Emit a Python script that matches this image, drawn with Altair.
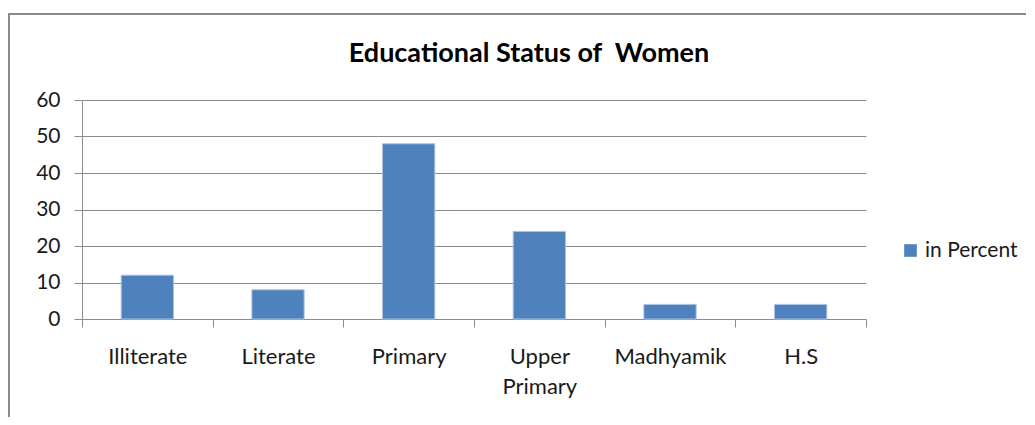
import altair as alt
import pandas as pd

categories = ["Illiterate", "Literate", "Primary", "Upper Primary", "Madhyamik", "H.S"]
values = [12, 8, 48, 24, 4, 4]
series_name = "in Percent"
y_ticks = [0, 10, 20, 30, 40, 50, 60]
title_text = "Educational Status of\u00a0 Women"

df = pd.DataFrame({"category": categories, "value": values, "series": [series_name] * len(categories)})

FONT = "Lato"
GRID = "#8c8c8c"
LBL = "#1a1a1a"
FRAME = "#8a8a8a"

bars = alt.Chart(df).mark_bar(
    width=alt.RelativeBandSize(0.4), stroke="#A9C2E2", strokeWidth=1
).encode(
    x=alt.X(
        "category:N", sort=categories, title=None,
        scale=alt.Scale(paddingInner=0, paddingOuter=0),
        axis=alt.Axis(
            tickBand="extent", labelAngle=0, labelFont=FONT, labelFontSize=22,
            labelColor=LBL, labelPadding=19, tickSize=8, tickColor=GRID,
            domainColor=GRID, labelLineHeight=30, grid=False,
            labelExpr="datum.label == 'Upper Primary' ? ['Upper', 'Primary'] : datum.label",
        ),
    ),
    y=alt.Y(
        "value:Q", title=None, scale=alt.Scale(domain=[0, 60]),
        axis=alt.Axis(
            values=y_ticks, labelFont=FONT, labelFontSize=21, labelColor=LBL,
            labelPadding=14, tickSize=8, tickColor=GRID, domainColor=GRID,
            gridColor=GRID, gridWidth=1.2,
        ),
    ),
    color=alt.Color(
        "series:N", scale=alt.Scale(range=["#4F81BD"]),
        legend=alt.Legend(
            title=None, orient="none", legendX=818, legendY=140, symbolType="square",
            symbolSize=160, symbolStrokeWidth=0, labelFont=FONT, labelFontSize=21,
            labelColor=LBL, labelOffset=4, padding=0,
        ),
    ),
)

frame_df = pd.DataFrame({"a": [0]})
frame_left = alt.Chart(frame_df).mark_rule(color=FRAME, strokeWidth=2).encode(
    x=alt.value(-73), y=alt.value(-86), y2=alt.value(400)
)
frame_top = alt.Chart(frame_df).mark_rule(color=FRAME, strokeWidth=2).encode(
    x=alt.value(-74), x2=alt.value(1100), y=alt.value(-86)
)

title = alt.Chart(pd.DataFrame({"t": [title_text]})).mark_text(
    font=FONT, fontSize=27, fontWeight="bold", color="black", align="center", baseline="alphabetic"
).encode(
    text="t:N", x=alt.value(447), y=alt.value(-38)
)

chart = alt.layer(frame_left, frame_top, bars, title).properties(
    width=784, height=219,
    autosize=alt.AutoSizeParams(type="none"),
    padding={"left": 74, "top": 92, "right": 160, "bottom": 98},
).configure_view(stroke=None)

chart.save("out.html", embed_options={"renderer": "svg", "actions": False})
